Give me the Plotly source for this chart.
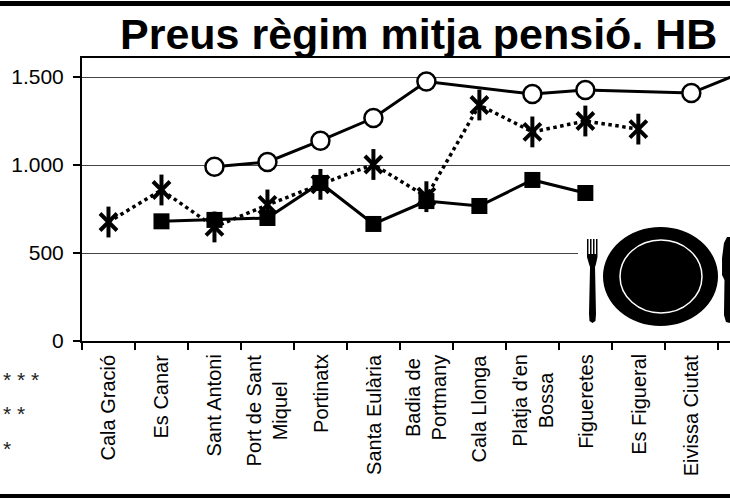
import plotly.graph_objects as go

llocs = ["Cala Gració", "Es Canar", "Sant Antoni", "Port de Sant<br>Miquel", "Portinatx",
         "Santa Eulària", "Badia de<br>Portmany", "Cala Llonga", "Platja d'en<br>Bossa",
         "Figueretes", "Es Figueral", "Eivissa Ciutat", "Talamanca"]

preus_3 = [None, None, 990, 1017, 1138, 1267, 1474, None, 1403, 1426, None, 1409, 1530]
preus_2 = [676, 858, 648, 773, 890, 1003, 820, 1341, 1188, 1250, 1204, None, None]
preus_1 = [None, 680, 688, 699, 898, 665, 795, 767, 915, 841, None, None, None]

y_ticks = [0, 500, 1000, 1500]
y_labels = ["0", "500", "1.000", "1.500"]
llegenda = ["* * *", "* *", "*"]

W, H = 730, 500
L, R, T, B = 82, 730, 58, 341
X_MAX = 11.73


def px(x):
    return (x - L) / (R - L)


def py(y):
    return (B - y) / (B - T)


fig = go.Figure()

fig.add_trace(go.Scatter(x=llocs, y=preus_1, mode="lines+markers", connectgaps=True,
                         line=dict(color="black", width=3),
                         marker=dict(symbol="square", size=16, color="black")))
fig.add_trace(go.Scatter(x=llocs, y=preus_2, mode="lines", connectgaps=True,
                         line=dict(color="black", width=3.5, dash="dot")))
# asterisc de 6 braços: x + línia vertical
fig.add_trace(go.Scatter(x=llocs, y=preus_2, mode="markers",
                         marker=dict(symbol="x-thin-open", size=17, color="black",
                                     line=dict(color="black", width=4))))
fig.add_trace(go.Scatter(x=llocs, y=preus_2, mode="markers",
                         marker=dict(symbol="line-ns-open", size=22, color="black",
                                     line=dict(color="black", width=4))))
fig.add_trace(go.Scatter(x=llocs, y=preus_3, mode="lines+markers", connectgaps=True,
                         line=dict(color="black", width=3),
                         marker=dict(symbol="circle", size=18, color="white",
                                     line=dict(color="black", width=2.5))))

shapes = []
# marc exterior
shapes.append(dict(type="line", xref="paper", yref="paper", x0=px(0), x1=px(730),
                   y0=py(3.5), y1=py(3.5), line=dict(color="black", width=5)))
shapes.append(dict(type="line", xref="paper", yref="paper", x0=px(0), x1=px(730),
                   y0=py(496), y1=py(496), line=dict(color="black", width=4)))
# fons blanc de la icona
shapes.append(dict(type="rect", xref="paper", yref="paper", x0=px(578), x1=px(730),
                   y0=py(332), y1=py(222), fillcolor="white", line=dict(width=0), layer="above"))
# plat
shapes.append(dict(type="circle", xref="paper", yref="paper", x0=px(603), x1=px(718),
                   y0=py(326), y1=py(227), fillcolor="black", line=dict(width=0), layer="above"))
shapes.append(dict(type="circle", xref="paper", yref="paper", x0=px(620), x1=px(702),
                   y0=py(313), y1=py(240), fillcolor="black", line=dict(color="white", width=1.5),
                   layer="above"))


def path(pts):
    return "M " + " L ".join(f"{px(a):.4f},{py(b):.4f}" for a, b in pts) + " Z"


# forquilla
fork = [(587, 239), (588.5, 239), (588.5, 254), (590, 254), (590, 239), (591.5, 239), (591.5, 254),
        (593, 254), (593, 239), (594.5, 239), (594.5, 254), (596, 254), (596, 239), (597.5, 239),
        (597.5, 257), (596, 264), (595, 267), (596, 314), (595.5, 321), (592.5, 323), (589.5, 321),
        (589, 314), (590, 267), (589, 264), (587, 257)]
shapes.append(dict(type="path", xref="paper", yref="paper", path=path(fork),
                   fillcolor="black", line=dict(width=0), layer="above"))
# ganivet
knife = [(727, 237), (724, 243), (722, 258), (722, 275), (724.5, 280), (724, 315), (726, 322),
         (730, 323), (730, 237)]
shapes.append(dict(type="path", xref="paper", yref="paper", path=path(knife),
                   fillcolor="black", line=dict(width=0), layer="above"))

annotations = [dict(text="<b>Preus règim mitja pensió. HB</b>", xref="paper", yref="paper",
                    x=px(418), y=py(34), xanchor="center", yanchor="middle", showarrow=False,
                    font=dict(size=43, color="black"))]
for i, t in enumerate(llegenda):
    annotations.append(dict(text=t, xref="paper", yref="paper", x=px(1), y=py([379, 413, 448][i]),
                            xanchor="left", yanchor="middle", showarrow=False,
                            font=dict(size=21, color="#222")))
# etiquetes de categoria (centrades quan tenen dues línies)
for i, t in enumerate(llocs):
    if i > X_MAX:
        continue
    annotations.append(dict(text=t, x=i, xref="x", yref="paper", y=py(352), xanchor="center",
                            yanchor="top", textangle=-90, align="center", showarrow=False,
                            font=dict(size=20, color="black")))

fig.update_layout(
    width=W, height=H,
    margin=dict(l=L, r=W - R, t=T, b=H - B),
    paper_bgcolor="white", plot_bgcolor="white",
    showlegend=False,
    font=dict(family="Liberation Sans, Arial, sans-serif", color="black"),
    shapes=shapes, annotations=annotations,
    xaxis=dict(type="category", range=[-0.5, X_MAX], ticks="outside", showticklabels=False,
               tickson="boundaries", ticklen=7, tickwidth=2, tickcolor="black",
               showline=True, linecolor="black", linewidth=2, mirror=True,
               showgrid=False),
    yaxis=dict(range=[0, 1608], tickvals=y_ticks, ticktext=y_labels, ticks="outside",
               ticklen=7, tickwidth=2, tickcolor="black", showline=True, linecolor="black",
               linewidth=2, showgrid=True, gridcolor="#444", gridwidth=1, zeroline=False,
               tickfont=dict(size=21), ticklabelstandoff=5),
)

fig.write_html("out.html", config={"displayModeBar": False},
               post_script="document.body.style.margin='0';")
